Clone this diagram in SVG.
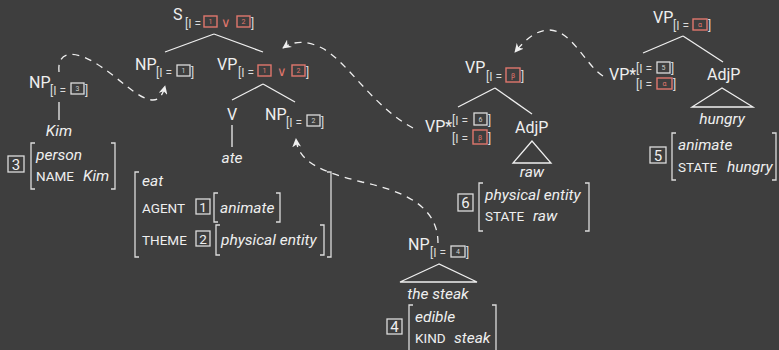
<svg xmlns="http://www.w3.org/2000/svg" width="779" height="350" viewBox="0 0 779 350">
  <style>
    .lbl { font-family: Roboto, "Liberation Sans", sans-serif; font-size: 16px; fill: #efefef; }
    .sub { font-family: Roboto, "Liberation Sans", sans-serif; font-size: 12px; fill: #dcdcdc; }
    .it { font-family: Roboto, "Liberation Sans", sans-serif; font-size: 15.5px; font-style: italic; fill: #efefef; }
    .sc { font-family: Roboto, "Liberation Sans", sans-serif; font-size: 13.5px; fill: #efefef; }
    .num { font-family: Roboto, "Liberation Sans", sans-serif; font-size: 15px; fill: #efefef; text-anchor: middle; }
    .tiny { font-family: Roboto, "Liberation Sans", sans-serif; font-size: 7px; fill: #cfcfcf; text-anchor: middle; }
    .rtiny { font-family: Roboto, "Liberation Sans", sans-serif; font-size: 7px; fill: #e0776d; text-anchor: middle; }
    .or { font-family: Roboto, "Liberation Sans", sans-serif; font-size: 13px; fill: #e0776d; text-anchor: middle; }
    .box { fill: none; stroke: #dcdcdc; stroke-width: 1.3; }
    .rbox { fill: none; stroke: #e0776d; stroke-width: 1.4; }
    .br { fill: none; stroke: #dcdcdc; stroke-width: 1.3; }
    .edge { fill: none; stroke: #efefef; stroke-width: 1.3; }
    .link { fill: none; stroke: #efefef; stroke-width: 1.3; stroke-dasharray: 7 6; }
    .mid { text-anchor: middle; }
  </style>
  <defs>
    <marker id="head" viewBox="0 0 10 10" refX="9" refY="5" markerWidth="9" markerHeight="9" markerUnits="userSpaceOnUse" orient="auto">
      <path d="M0,0 L10,5 L0,10 L3,5 z" fill="#efefef"/>
    </marker>
  </defs>

  <rect width="779" height="350" fill="#3e3e3e"/>

  <!-- tree edges -->
  <g id="edges">
    <line class="edge" x1="214" y1="34" x2="165" y2="52"/>
    <line class="edge" x1="214" y1="34" x2="263" y2="52"/>
    <line class="edge" x1="263" y1="84" x2="232" y2="100"/>
    <line class="edge" x1="263" y1="84" x2="295" y2="102"/>
    <line class="edge" x1="232" y1="125" x2="232" y2="147"/>
    <line class="edge" x1="59" y1="102" x2="59" y2="120"/>
    <line class="edge" x1="495" y1="88" x2="458" y2="107"/>
    <line class="edge" x1="495" y1="88" x2="532" y2="114"/>
    <polygon class="edge" points="532,141 513,163 551,163"/>
    <line class="edge" x1="683" y1="36" x2="643" y2="53"/>
    <line class="edge" x1="683" y1="36" x2="723" y2="62"/>
    <polygon class="edge" points="722,88 692,107 753,107"/>
    <polygon class="edge" points="439,264 400,282 477,282"/>
  </g>

  <!-- dashed links -->
  <g id="links">
    <path class="link" marker-end="url(#head)" d="M59,72 C57,52 72,50 92,61 C118,76 138,100 153,100 C160,100 163,94 165,86"/>
    <path class="link" marker-end="url(#head)" d="M413,128 C372,106 348,62 322,48 C306,40 293,41 283,48"/>
    <path class="link" marker-end="url(#head)" d="M438,243 C438,205 402,191 362,182 C322,172 298,162 296,139"/>
    <path class="link" marker-end="url(#head)" d="M603,76 C586,66 572,30 549,30 C536,30 525,40 515,52"/>
  </g>

  <!-- S -->
  <g id="s">
    <text class="lbl" x="173" y="20">S</text>
    <text class="sub" x="185" y="28">[I =</text>
    <rect class="rbox" x="204" y="16" width="13" height="11"/>
    <text class="rtiny" x="210.5" y="24">1</text>
    <text class="or" x="226" y="27">∨</text>
    <rect class="rbox" x="237" y="16" width="13" height="11"/>
    <text class="rtiny" x="243.5" y="24">2</text>
    <text class="sub" x="251" y="28">]</text>
  </g>

  <!-- NP subject -->
  <g id="np1">
    <text class="lbl" x="135" y="70">NP</text>
    <text class="sub" x="156" y="77">[I =</text>
    <rect class="box" x="177" y="65" width="13" height="11"/>
    <text class="tiny" x="183.5" y="73">1</text>
    <text class="sub" x="191" y="77">]</text>
  </g>

  <!-- VP -->
  <g id="vp12">
    <text class="lbl" x="217" y="70">VP</text>
    <text class="sub" x="238" y="77">[I =</text>
    <rect class="rbox" x="258" y="65" width="13" height="11"/>
    <text class="rtiny" x="264.5" y="73">1</text>
    <text class="or" x="282" y="76">∨</text>
    <rect class="rbox" x="292" y="65" width="13" height="11"/>
    <text class="rtiny" x="298.5" y="73">2</text>
    <text class="sub" x="306" y="77">]</text>
  </g>

  <!-- V ate -->
  <g id="v">
    <text class="lbl mid" x="232" y="120">V</text>
    <text class="it mid" x="232" y="163">ate</text>
  </g>

  <!-- NP object -->
  <g id="np2">
    <text class="lbl" x="265" y="120">NP</text>
    <text class="sub" x="286" y="127">[I =</text>
    <rect class="box" x="307" y="115" width="13" height="11"/>
    <text class="tiny" x="313.5" y="123">2</text>
    <text class="sub" x="321" y="127">]</text>
  </g>

  <!-- NP Kim -->
  <g id="np3">
    <text class="lbl" x="29" y="88">NP</text>
    <text class="sub" x="50" y="95">[I =</text>
    <rect class="box" x="71" y="83" width="13" height="11"/>
    <text class="tiny" x="77.5" y="91">3</text>
    <text class="sub" x="85" y="95">]</text>
    <text class="it mid" x="59" y="136">Kim</text>
  </g>

  <!-- feature structure 3 -->
  <g id="fs3">
    <rect class="box" x="8" y="156" width="16" height="16"/>
    <text class="num" x="16" y="169.5">3</text>
    <path class="br" d="M35,143 H31 V189 H35"/>
    <path class="br" d="M111,143 H115 V189 H111"/>
    <text class="it" x="36" y="160">person</text>
    <text class="sc" x="36" y="181">NAME</text>
    <text class="it" x="83" y="181">Kim</text>
  </g>

  <!-- feature structure eat -->
  <g id="fs-eat">
    <path class="br" d="M139,172 H135 V257 H139"/>
    <path class="br" d="M327,172 H331 V257 H327"/>
    <text class="it" x="142" y="186">eat</text>
    <text class="sc" x="142" y="213">AGENT</text>
    <rect class="box" x="196" y="199" width="14" height="15"/>
    <text class="num" x="203" y="211.5" style="font-size:13.5px">1</text>
    <path class="br" d="M218,193 H214 V222 H218"/>
    <text class="it" x="220" y="213">animate</text>
    <path class="br" d="M276,193 H280 V222 H276"/>
    <text class="sc" x="142" y="245">THEME</text>
    <rect class="box" x="196" y="231" width="14" height="15"/>
    <text class="num" x="203" y="243.5" style="font-size:13.5px">2</text>
    <path class="br" d="M220,225 H216 V255 H220"/>
    <text class="it" x="221" y="245">physical entity</text>
    <path class="br" d="M320,225 H324 V255 H320"/>
  </g>

  <!-- VP beta -->
  <g id="vp-beta">
    <text class="lbl" x="465" y="73">VP</text>
    <text class="sub" x="486" y="81">[I =</text>
    <rect class="rbox" x="506" y="68" width="14" height="14"/>
    <text class="rtiny" x="513" y="77.5">β</text>
    <text class="sub" x="521" y="81">]</text>
  </g>

  <!-- VP* raw -->
  <g id="vpstar-raw">
    <text class="lbl" x="425" y="132">VP*</text>
    <text class="sub" x="452" y="125">[I =</text>
    <rect class="box" x="474" y="113" width="13" height="12"/>
    <text class="tiny" x="480.5" y="121.5">6</text>
    <text class="sub" x="488" y="125">]</text>
    <text class="sub" x="452" y="143">[I =</text>
    <rect class="rbox" x="473" y="130" width="14" height="14"/>
    <text class="rtiny" x="480" y="139.5">β</text>
    <text class="sub" x="488" y="143">]</text>
  </g>

  <!-- AdjP raw -->
  <g id="adjp-raw">
    <text class="lbl" x="515" y="133">AdjP</text>
    <text class="it mid" x="532" y="177">raw</text>
  </g>

  <!-- feature structure 6 -->
  <g id="fs6">
    <rect class="box" x="458" y="194" width="15" height="17"/>
    <text class="num" x="465.5" y="208">6</text>
    <path class="br" d="M483,183 H479 V231 H483"/>
    <path class="br" d="M585,183 H589 V231 H585"/>
    <text class="it" x="485" y="200">physical entity</text>
    <text class="sc" x="485" y="221">STATE</text>
    <text class="it" x="533" y="221">raw</text>
  </g>

  <!-- VP alpha -->
  <g id="vp-alpha">
    <text class="lbl" x="653" y="23">VP</text>
    <text class="sub" x="673" y="30">[I =</text>
    <rect class="rbox" x="693" y="19" width="14" height="11"/>
    <text class="rtiny" x="700" y="27">α</text>
    <text class="sub" x="708" y="30">]</text>
  </g>

  <!-- VP* hungry -->
  <g id="vpstar-hungry">
    <text class="lbl" x="609" y="80">VP*</text>
    <text class="sub" x="636" y="73">[I =</text>
    <rect class="box" x="657" y="62" width="13" height="11"/>
    <text class="tiny" x="663.5" y="70">5</text>
    <text class="sub" x="671" y="73">]</text>
    <text class="sub" x="636" y="89">[I =</text>
    <rect class="rbox" x="657" y="78" width="15" height="11"/>
    <text class="rtiny" x="664.5" y="86">α</text>
    <text class="sub" x="673" y="89">]</text>
  </g>

  <!-- AdjP hungry -->
  <g id="adjp-hungry">
    <text class="lbl" x="707" y="80">AdjP</text>
    <text class="it mid" x="722" y="124">hungry</text>
  </g>

  <!-- feature structure 5 -->
  <g id="fs5">
    <rect class="box" x="650" y="147" width="16" height="16"/>
    <text class="num" x="658" y="160.5">5</text>
    <path class="br" d="M676,133 H672 V180 H676"/>
    <path class="br" d="M772,133 H776 V180 H772"/>
    <text class="it" x="678" y="150">animate</text>
    <text class="sc" x="678" y="172">STATE</text>
    <text class="it" x="727" y="172">hungry</text>
  </g>

  <!-- NP the steak -->
  <g id="np4">
    <text class="lbl" x="408" y="250">NP</text>
    <text class="sub" x="430" y="257">[I =</text>
    <rect class="box" x="451" y="246" width="14" height="11"/>
    <text class="tiny" x="458" y="254">4</text>
    <text class="sub" x="466" y="257">]</text>
    <text class="it mid" x="438" y="299">the steak</text>
  </g>

  <!-- feature structure 4 -->
  <g id="fs4">
    <rect class="box" x="387" y="319" width="15" height="15"/>
    <text class="num" x="394.5" y="332">4</text>
    <path class="br" d="M413,305 H409 V352"/>
    <path class="br" d="M492,305 H496 V352"/>
    <text class="it" x="415" y="322">edible</text>
    <text class="sc" x="415" y="343">KIND</text>
    <text class="it" x="454" y="343">steak</text>
  </g>
</svg>
